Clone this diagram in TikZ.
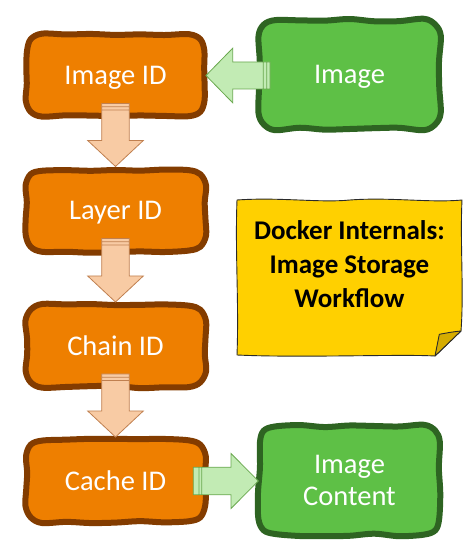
\documentclass[tikz,border=0pt]{standalone}
\usepackage{fontspec}
\setmainfont{Carlito}
\usetikzlibrary{calc}
\definecolor{oboxfill}{HTML}{EE7F00}
\definecolor{oboxline}{HTML}{833C00}
\definecolor{gboxfill}{HTML}{5EC046}
\definecolor{gboxline}{HTML}{2E6422}
\definecolor{oarrfill}{HTML}{F8CBA4}
\definecolor{oarrline}{HTML}{C08050}
\definecolor{garrfill}{HTML}{C2EBB4}
\definecolor{garrline}{HTML}{6AA84F}
\definecolor{notefill}{HTML}{FFD000}
\definecolor{notefold}{HTML}{D6AC00}
\definecolor{noteline}{HTML}{2A2A2A}
\tikzset{
  obox/.style={fill=oboxfill, draw=oboxline, line width=6pt, line join=round},
  gbox/.style={fill=gboxfill, draw=gboxline, line width=6pt, line join=round},
  boxtext/.style={text=white, font=\fontsize{28.5}{32}\selectfont, inner sep=0pt, outer sep=0pt},
  oarrow/.style={fill=oarrfill, draw=oarrline, line width=0.8pt, line join=miter},
  garrow/.style={fill=garrfill, draw=garrline, line width=0.8pt, line join=miter},
  notebody/.style={fill=notefill, draw=noteline, line width=0.9pt, line join=round},
  notefoldst/.style={fill=notefold, draw=noteline, line width=0.9pt, line join=round},
  notetext/.style={text=black, font=\bfseries\fontsize{27}{34}\selectfont, align=center, inner sep=0pt},
}
% wobbly rounded box: #1 cx, #2 cy, #3 half width, #4 half height, #5 style, #6 seed
\newcommand\wbox[6]{%
  \pgfmathsetseed{#6}%
  \gdef\wpts{}%
  \foreach \k in {0,...,6}{%
    \pgfmathsetmacro\px{#1-#3+16+\k*(2*#3-32)/6}%
    \pgfmathsetmacro\py{#2+#4+1.3*rand}%
    \xdef\wpts{\wpts(\px,\py)}}%
  \pgfmathsetmacro\px{#1+#3-4.7}\pgfmathsetmacro\py{#2+#4-4.7}%
  \xdef\wpts{\wpts(\px,\py)}%
  \foreach \k in {0,...,3}{%
    \pgfmathsetmacro\px{#1+#3+1.3*rand}%
    \pgfmathsetmacro\py{#2+#4-16-\k*(2*#4-32)/3}%
    \xdef\wpts{\wpts(\px,\py)}}%
  \pgfmathsetmacro\px{#1+#3-4.7}\pgfmathsetmacro\py{#2-#4+4.7}%
  \xdef\wpts{\wpts(\px,\py)}%
  \foreach \k in {0,...,6}{%
    \pgfmathsetmacro\px{#1+#3-16-\k*(2*#3-32)/6}%
    \pgfmathsetmacro\py{#2-#4+1.3*rand}%
    \xdef\wpts{\wpts(\px,\py)}}%
  \pgfmathsetmacro\px{#1-#3+4.7}\pgfmathsetmacro\py{#2-#4+4.7}%
  \xdef\wpts{\wpts(\px,\py)}%
  \foreach \k in {0,...,3}{%
    \pgfmathsetmacro\px{#1-#3+1.3*rand}%
    \pgfmathsetmacro\py{#2-#4+16+\k*(2*#4-32)/3}%
    \xdef\wpts{\wpts(\px,\py)}}%
  \pgfmathsetmacro\px{#1-#3+4.7}\pgfmathsetmacro\py{#2+#4-4.7}%
  \xdef\wpts{\wpts(\px,\py)}%
  \edef\wtmp{\noexpand\draw[#5] plot[smooth cycle,tension=0.55] coordinates {\wpts};}%
  \wtmp}
% block arrow downwards from #1 to #2
\newcommand\arrdown[2]{%
  \draw[oarrow] let \p1=(#1.south), \p2=(#2.north) in
    (\x1-13.8,\y1+13) -- (\x1+13.8,\y1+13) -- (\x1+13.8,\y2+29) -- (\x1+27.8,\y2+29)
    -- (\x1,\y2+3) -- (\x1-27.8,\y2+29) -- (\x1-13.8,\y2+29) -- cycle
    (\x1-13.8,\y1+9.7) -- (\x1+13.8,\y1+9.7)
    (\x1-13.8,\y1+6.5) -- (\x1+13.8,\y1+6.5);}
\begin{document}
\begin{tikzpicture}[x=1pt,y=1pt]
\useasboundingbox (0,0) rectangle (472,552);
% boxes
\wbox{115.5}{476.5}{89.5}{41}{obox}{11}
\wbox{115.5}{341.5}{89.5}{41}{obox}{23}
\wbox{115.5}{206}{89.5}{41}{obox}{37}
\wbox{115.5}{71}{89.5}{41}{obox}{41}
\wbox{349.5}{477.5}{90.5}{54.5}{gbox}{53}
\wbox{349.5}{71.5}{90.5}{54.5}{gbox}{67}
% note
\draw[notebody] (237,352) .. controls (280,355) and (320,349) .. (350,352)
  .. controls (390,355) and (430,349) .. (462,352)
  .. controls (460,310) and (464,260) .. (461,221) -- (435,196)
  .. controls (400,198) and (300,194) .. (237,197)
  .. controls (239,250) and (235,300) .. (237,352) -- cycle;
\draw[notefoldst] (461,221) .. controls (452,220) .. (439.3,217.7) -- (435,196) -- cycle;
\node[notetext, anchor=north] (title) at (349.5,332) {Docker Internals:\\Image Storage\\Workflow};
% text nodes
\node[boxtext, minimum width=179pt, minimum height=82pt, text height=18.3pt, text depth=0pt] (imgid) at (115.5,476.5) {Image ID};
\node[boxtext, minimum width=179pt, minimum height=82pt, text height=18.3pt, text depth=0pt] (layer) at (115.5,341.5) {Layer ID};
\node[boxtext, minimum width=179pt, minimum height=82pt, text height=18.3pt, text depth=0pt] (chain) at (115.5,206) {Chain ID};
\node[boxtext, minimum width=179pt, minimum height=82pt, text height=18.3pt, text depth=0pt] (cache) at (115.5,71) {Cache ID};
\node[boxtext, minimum width=181pt, minimum height=109pt, text height=18.3pt, text depth=0pt] (image) at (349.5,477.5) {Image};
\node[boxtext, align=center, minimum width=181pt, minimum height=109pt] (content) at (349.5,71.5) {Image\\Content};
% arrows
\draw[garrow] let \p1=(image.west), \p2=(imgid.east) in
  (\x1+11,\y2+13.5) -- (\x2+27.7,\y2+13.5) -- (\x2+27.7,\y2+27.3) -- (\x2+1,\y2)
  -- (\x2+27.7,\y2-27.3) -- (\x2+27.7,\y2-13.5) -- (\x1+11,\y2-13.5) -- cycle
  (\x1+7.7,\y2+13.5) -- (\x1+7.7,\y2-13.5)
  (\x1+4.3,\y2+13.5) -- (\x1+4.3,\y2-13.5);
\arrdown{imgid}{layer}
\arrdown{layer}{chain}
\arrdown{chain}{cache}
\draw[garrow] let \p1=(cache.east), \p2=(content.west) in
  (\x1-11.7,\y1+13.8) -- (\x2-28,\y1+13.8) -- (\x2-28,\y1+27.5) -- (\x2-0.7,\y1)
  -- (\x2-28,\y1-27.5) -- (\x2-28,\y1-13.8) -- (\x1-11.7,\y1-13.8) -- cycle
  (\x1-6,\y1+13.8) -- (\x1-6,\y1-13.8)
  (\x1-3.3,\y1+13.8) -- (\x1-3.3,\y1-13.8);
\end{tikzpicture}
\end{document}
